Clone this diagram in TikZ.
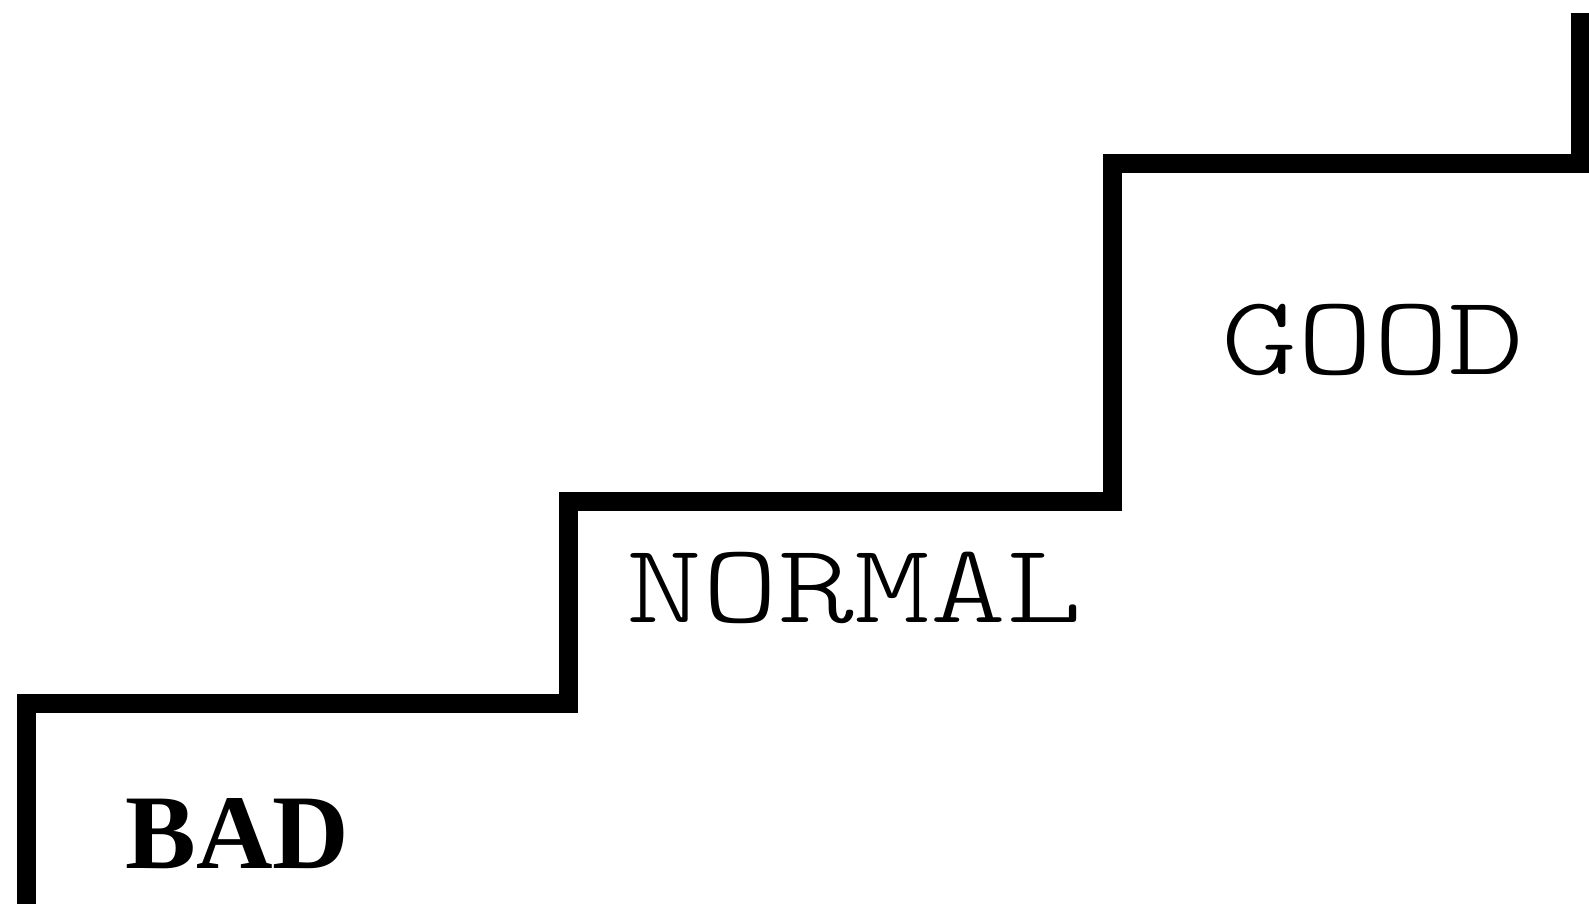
\documentclass[tikz,border=0pt]{standalone}
\usepackage{fontspec}
\setmainfont{Liberation Serif}
\newfontfamily\monofnt[FakeStretch=1.28]{Latin Modern Mono Light}
\tikzset{
  stair/.style={line width=19pt, line join=miter, line cap=butt, black},
  lbl/.style={inner sep=0pt, anchor=center},
  monolbl/.style={lbl, font=\monofnt\fontsize{113}{113}\selectfont},
  boldlbl/.style={lbl, font=\bfseries\fontsize{106}{106}\selectfont}
}
\begin{document}
\begin{tikzpicture}[x=1pt,y=-1pt]
\useasboundingbox (0,0) rectangle (1589,903);
\fill[white] (0,0) rectangle (1589,903);
\draw[stair] (26,915) -- (26,703) -- (568,703) -- (568,501) -- (1112,501) -- (1112,163) -- (1580,163) -- (1580,13);
\node[boldlbl] (bad) at (237.5,834) {BAD};
\node[monolbl] (normal) at (854.5,587.5) {NORMAL};
\node[monolbl] (good) at (1373,340) {GOOD};
\end{tikzpicture}
\end{document}
